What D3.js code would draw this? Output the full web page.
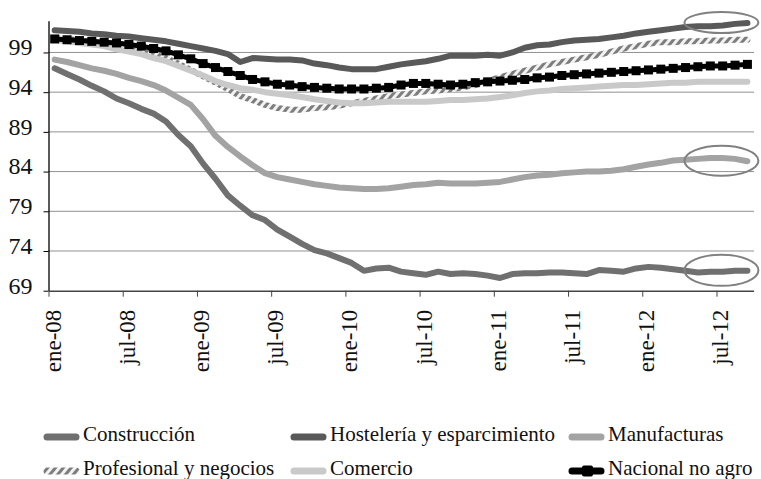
<!DOCTYPE html>
<html>
<head>
<meta charset="utf-8">
<script src="https://cdn.jsdelivr.net/npm/d3@7"></script>
</head>
<body style="margin:0">
<div id="grafico"></div>
<script>
// meses de ene-08 a sep-12 (57 categorias)
var meses = d3.timeMonth.range(new Date(2008, 0, 1), new Date(2012, 9, 1));
var etiquetasX = ["ene-08", "jul-08", "ene-09", "jul-09", "ene-10", "jul-10", "ene-11", "jul-11", "ene-12", "jul-12"];
var ticksY = [69, 74, 79, 84, 89, 94, 99];

var construccion = [97.0, 96.3, 95.6, 94.8, 94.1, 93.2, 92.6, 91.9, 91.3, 90.3, 88.6, 87.2, 85.0, 83.1, 81.0, 79.7, 78.5, 77.9, 76.7, 75.8,
  74.9, 74.1, 73.7, 73.1, 72.5, 71.5, 71.8, 71.9, 71.4, 71.2, 71.0, 71.4, 71.1, 71.2, 71.1, 70.9, 70.6, 71.1, 71.2, 71.2,
  71.3, 71.3, 71.2, 71.1, 71.6, 71.5, 71.4, 71.8, 72.0, 71.9, 71.7, 71.5, 71.3, 71.4, 71.4, 71.5, 71.5];
var hosteleria = [101.8, 101.7, 101.6, 101.4, 101.3, 101.1, 101.0, 100.8, 100.6, 100.4, 100.1, 99.8, 99.5, 99.2, 98.8, 97.8, 98.3, 98.2, 98.1, 98.1,
  98.0, 97.6, 97.4, 97.1, 96.9, 96.9, 96.9, 97.2, 97.5, 97.7, 97.9, 98.2, 98.6, 98.6, 98.6, 98.7, 98.6, 99.0, 99.6, 99.9,
  100.0, 100.3, 100.5, 100.6, 100.7, 100.9, 101.1, 101.4, 101.6, 101.8, 102.0, 102.2, 102.3, 102.3, 102.4, 102.6, 102.7];
var manufacturas = [98.1, 97.8, 97.4, 97.0, 96.7, 96.3, 95.8, 95.4, 94.9, 94.2, 93.3, 92.4, 90.6, 88.5, 87.1, 85.9, 84.8, 83.8, 83.3, 83.0,
  82.7, 82.4, 82.2, 82.0, 81.9, 81.8, 81.8, 81.9, 82.1, 82.3, 82.4, 82.6, 82.5, 82.5, 82.5, 82.6, 82.7, 83.0, 83.3, 83.5,
  83.6, 83.8, 83.9, 84.0, 84.0, 84.1, 84.3, 84.6, 84.9, 85.1, 85.4, 85.5, 85.6, 85.7, 85.7, 85.6, 85.3];
var profesional = [100.8, 100.7, 100.5, 100.3, 100.1, 99.9, 99.6, 99.2, 98.8, 98.3, 97.6, 96.8, 96.0, 95.2, 94.4, 93.5, 93.0, 92.4, 92.0, 91.8,
  91.8, 92.0, 92.1, 92.3, 92.6, 92.9, 93.2, 93.5, 93.7, 93.9, 94.1, 94.2, 94.4, 94.6, 94.9, 95.4, 95.9, 96.3, 96.7, 97.1,
  97.5, 97.8, 98.1, 98.4, 98.7, 99.1, 99.5, 99.8, 100.1, 100.3, 100.3, 100.4, 100.4, 100.5, 100.5, 100.6, 100.6];
var comercio = [100.6, 100.4, 100.2, 100.0, 99.8, 99.4, 99.1, 98.8, 98.3, 97.9, 97.3, 96.7, 96.1, 95.4, 94.9, 94.5, 94.3, 94.0, 93.8, 93.6,
  93.4, 93.1, 92.9, 92.7, 92.6, 92.6, 92.7, 92.8, 92.8, 92.8, 92.8, 92.9, 93.0, 93.0, 93.1, 93.2, 93.4, 93.6, 93.9, 94.1,
  94.2, 94.4, 94.5, 94.6, 94.7, 94.8, 94.9, 94.9, 95.0, 95.1, 95.2, 95.2, 95.3, 95.3, 95.3, 95.3, 95.3];
var nacional = [100.7, 100.6, 100.5, 100.4, 100.3, 100.2, 100.0, 99.8, 99.5, 99.2, 98.7, 98.2, 97.6, 97.1, 96.6, 96.1, 95.6, 95.3, 95.0, 94.9,
  94.7, 94.6, 94.5, 94.4, 94.4, 94.4, 94.5, 94.6, 94.9, 95.1, 95.1, 95.0, 94.9, 95.0, 95.2, 95.3, 95.4, 95.5, 95.6, 95.8,
  95.9, 96.1, 96.2, 96.3, 96.4, 96.5, 96.6, 96.7, 96.8, 96.9, 97.0, 97.1, 97.2, 97.3, 97.3, 97.4, 97.5];

var series = [
  {nombre: "Construcción", valores: construccion, color: "#707070"},
  {nombre: "Hostelería y esparcimiento", valores: hosteleria, color: "#595959"},
  {nombre: "Manufacturas", valores: manufacturas, color: "#a3a3a3"},
  {nombre: "Profesional y negocios", valores: profesional, color: "url(#rayas)"},
  {nombre: "Comercio", valores: comercio, color: "#c9c9c9"},
  {nombre: "Nacional no agro", valores: nacional, color: "#000", marcador: true}
];

var fuente = "Liberation Serif";
var ancho = 761, alto = 479;
var svg = d3.select("#grafico").append("svg")
  .attr("width", ancho).attr("height", alto);

// patron rayado para profesional
var patron = svg.append("defs").append("pattern")
  .attr("id", "rayas")
  .attr("patternUnits", "userSpaceOnUse")
  .attr("width", 6).attr("height", 6)
  .attr("patternTransform", "rotate(40)");
patron.append("rect").attr("width", 6).attr("height", 6).attr("fill", "#f2f2f2");
patron.append("rect").attr("width", 3).attr("height", 6).attr("fill", "#7d7d7d");

// escalas
var x = d3.scaleLinear().domain([0, meses.length]).range([48.5, 753.6]);
var y = d3.scaleLinear().domain([69, 103]).range([290.7, 20.7]);
function cx(i) { return x(i + 0.5); }

// lineas de cuadricula punteadas
svg.append("g").selectAll("line")
  .data(ticksY.slice(1))
  .join("line")
    .attr("x1", x(0)).attr("x2", x(meses.length))
    .attr("y1", d => y(d)).attr("y2", d => y(d))
    .attr("stroke", "#222").attr("stroke-width", 1)
    .attr("stroke-dasharray", "1,1");

// eje y
var ejeY = svg.append("g")
  .attr("transform", "translate(" + x(0) + ",0)")
  .call(d3.axisLeft(y).tickValues(ticksY).tickSize(5).tickSizeOuter(0).tickPadding(11));
ejeY.attr("font-family", fuente).attr("font-size", 24);
ejeY.select(".domain").attr("stroke", "#000").attr("stroke-width", 1.3);
ejeY.selectAll(".tick line").attr("stroke", "#000");
ejeY.selectAll("text")
  .style("font-family", fuente)
  .style("font-size", "24px")
  .attr("dy", "0.1em")
  .attr("fill", "#111");

// eje x
var ejeX = svg.append("g")
  .attr("transform", "translate(0," + y(69) + ")")
  .call(d3.axisBottom(x)
    .tickValues(d3.range(0, meses.length, 6))
    .tickFormat((d, i) => etiquetasX[i])
    .tickSize(6).tickSizeOuter(0));
ejeX.attr("font-family", fuente).attr("font-size", 23);
ejeX.select(".domain").attr("stroke", "#444").attr("stroke-width", 1.5);
ejeX.selectAll(".tick line").attr("stroke", "#444");
ejeX.selectAll("text")
  .style("font-family", fuente)
  .style("font-size", "23px")
  .attr("fill", "#111")
  .attr("text-anchor", "end")
  .attr("transform", "translate(11.5,19) rotate(-90)")
  .attr("x", 0).attr("y", 0).attr("dy", 0);

// lineas
var linea = d3.line()
  .x((d, i) => cx(i))
  .y(d => y(d));

series.forEach(function(s) {
  svg.append("path")
    .datum(s.valores)
    .attr("fill", "none")
    .attr("stroke", s.color)
    .attr("stroke-width", s.marcador ? 5 : 6)
    .attr("stroke-linejoin", "round")
    .attr("stroke-linecap", "round")
    .attr("d", linea);
  if (s.marcador) {
    svg.append("g").selectAll("rect")
      .data(s.valores)
      .join("rect")
        .attr("x", (d, i) => cx(i) - 4.5)
        .attr("y", d => y(d) - 4.5)
        .attr("width", 9).attr("height", 9)
        .attr("fill", "#000");
  }
});

// elipses de anotacion
var ultimo = meses.length - 1;
var elipses = [
  {valor: hosteleria[ultimo], ry: 10.5},
  {valor: manufacturas[ultimo], ry: 15},
  {valor: construccion[ultimo], ry: 15.5}
];
svg.append("g").selectAll("ellipse")
  .data(elipses)
  .join("ellipse")
    .attr("cx", cx(ultimo) - 26)
    .attr("cy", d => y(d.valor) - 0.5)
    .attr("rx", 37).attr("ry", d => d.ry)
    .attr("fill", "none")
    .attr("stroke", "#808080")
    .attr("stroke-width", 2);

// leyenda
var colX = [43, 290, 568];
var filaY = [437, 471];
var leyenda = svg.append("g").selectAll("g")
  .data(series)
  .join("g")
    .attr("transform", function(d, i) {
      var col = i % 3, fila = Math.floor(i / 3);
      if (i === 5) col = 2;
      return "translate(" + colX[col] + "," + filaY[fila] + ")";
    });
leyenda.append("line")
  .attr("x1", 4).attr("x2", 33)
  .attr("y1", 0).attr("y2", 0)
  .attr("stroke", d => d.color)
  .attr("stroke-width", 7)
  .attr("stroke-linecap", "round");
leyenda.filter(d => d.marcador).append("rect")
  .attr("x", 14).attr("y", -5.5).attr("width", 11).attr("height", 11)
  .attr("rx", 2)
  .attr("fill", "#000");
leyenda.append("text")
  .attr("x", 40).attr("y", 3.5)
  .style("font-family", fuente)
  .style("font-size", "21px")
  .attr("fill", "#111")
  .text(d => d.nombre);
</script>
</body>
</html>
